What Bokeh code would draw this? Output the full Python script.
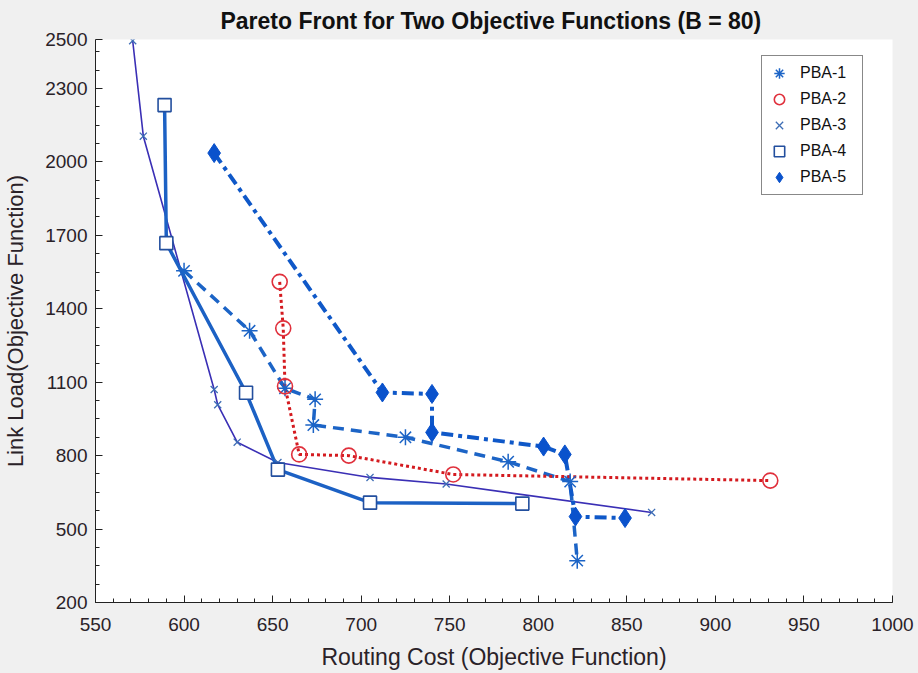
from bokeh.plotting import figure
from bokeh.models import Range1d, FixedTicker, Legend, LegendItem
from bokeh.embed import file_html
from bokeh.resources import INLINE

# ---- data ----
pba1_x = [600, 637, 657, 674, 673, 725, 783, 818, 822]
pba1_y = [1555, 1310, 1075, 1030, 925, 875, 775, 694, 371]

pba2_x = [654, 656, 657, 665, 693, 752, 931]
pba2_y = [1510, 1320, 1083, 805, 800, 723, 698]

pba3_x = [571, 577, 617, 619, 630, 653, 705, 748, 864]
pba3_y = [2495, 2105, 1070, 1008, 855, 772, 711, 684, 568]

pba4_x = [589, 590, 635, 653, 705, 791]
pba4_y = [2232, 1668, 1057, 743, 608, 604]

pba5_x = [617, 712, 740, 740, 803, 815, 821, 849]
pba5_y = [2036, 1058, 1052, 895, 837, 805, 551, 545]

x_ticks = [550, 600, 650, 700, 750, 800, 850, 900, 950, 1000]
y_ticks = [200, 500, 800, 1100, 1400, 1700, 2000, 2300, 2500]
x_minor = [v for v in range(550, 1001, 10)]
y_minor = [v for v in range(200, 2501, 75)]

FONT = "Liberation Sans"
TXT = "#2a2228"

p = figure(width=918, height=673, output_backend="svg", toolbar_location=None,
           x_range=Range1d(550, 1000), y_range=Range1d(200, 2500),
           min_border_left=91, min_border_right=26, min_border_top=36, min_border_bottom=71)

p.background_fill_color = "white"
p.border_fill_color = "#f0f0f0"
p.outline_line_color = None
p.grid.visible = False

p.title.text = "Pareto Front for Two Objective Functions  (B = 80)"
p.title.align = "center"
p.title.text_font = FONT
p.title.text_font_size = "23px"
p.title.text_font_style = "bold"
p.title.text_color = "#111111"
p.title.standoff = 11

p.xaxis.axis_label = "Routing Cost (Objective Function)"
p.yaxis.axis_label = "Link Load(Objective Function)"
p.xaxis.ticker = FixedTicker(ticks=x_ticks, minor_ticks=x_minor)
p.yaxis.ticker = FixedTicker(ticks=y_ticks, minor_ticks=y_minor)
for ax in (p.xaxis, p.yaxis):
    ax.axis_label_text_font = FONT
    ax.axis_label_text_font_style = "normal"
    ax.axis_label_text_color = TXT
    ax.major_label_text_font = FONT
    ax.major_label_text_font_size = "19px"
    ax.major_label_text_color = TXT
    ax.axis_line_color = "#222222"
    ax.major_tick_line_color = "#222222"
    ax.minor_tick_line_color = "#222222"
    ax.major_tick_in = 7
    ax.major_tick_out = 0
    ax.minor_tick_in = 4
    ax.minor_tick_out = 0
p.xaxis.axis_label_text_font_size = "23px"
p.yaxis.axis_label_text_font_size = "22px"
p.xaxis.major_label_standoff = 15
p.xaxis.axis_label_standoff = 10
p.yaxis.major_label_standoff = 8
p.yaxis.axis_label_standoff = 14

# ---- lines ----
p.line(pba3_x, pba3_y, line_color="#3a2fb5", line_width=1.6)
p.line(pba4_x, pba4_y, line_color="#1c61c4", line_width=3.5)
p.line(pba1_x, pba1_y, line_color="#1c64c6", line_width=3.5, line_dash="11 7")
p.line(pba5_x, pba5_y, line_color="#0f58c8", line_width=4, line_dash="12 5 4 5")
p.line(pba2_x, pba2_y, line_color="#d41a1f", line_width=3, line_dash="3 3")

# ---- markers ----
r1 = p.scatter(pba1_x, pba1_y, marker="asterisk", size=16, line_color="#1c64c6", line_width=1.5)
r2 = p.scatter(pba2_x, pba2_y, marker="circle", size=15, fill_color=None,
               line_color="#e0303c", line_width=1.6)
r3 = p.scatter(pba3_x, pba3_y, marker="x", size=10, line_color="#3d6db5", line_width=1.3)
r4 = p.scatter(pba4_x, pba4_y, marker="square", size=13, fill_color="white",
               line_color="#234f9e", line_width=1.6)
r5 = p.scatter(pba5_x, pba5_y, marker="diamond", size=19, fill_color="#0a52cc",
               line_color="#0a52cc")

legend = Legend(items=[LegendItem(label="PBA-1", renderers=[r1]),
                       LegendItem(label="PBA-2", renderers=[r2]),
                       LegendItem(label="PBA-3", renderers=[r3]),
                       LegendItem(label="PBA-4", renderers=[r4]),
                       LegendItem(label="PBA-5", renderers=[r5])],
                location=(666, 407))
legend.label_text_font = FONT
legend.label_text_font_size = "16px"
legend.label_text_color = "#111111"
legend.glyph_width = 26
legend.glyph_height = 26
legend.label_height = 26
legend.label_width = 58
legend.spacing = 0
legend.padding = 4
legend.label_standoff = 8
legend.border_line_color = "#111111"
legend.border_line_width = 1
legend.background_fill_color = "white"
legend.background_fill_alpha = 1
p.add_layout(legend, "center")

html = file_html(p, INLINE)
html = html.replace("</head>", "<style>html, body { background: #f0f0f0; }</style></head>", 1)
open("out.html", "w").write(html)
